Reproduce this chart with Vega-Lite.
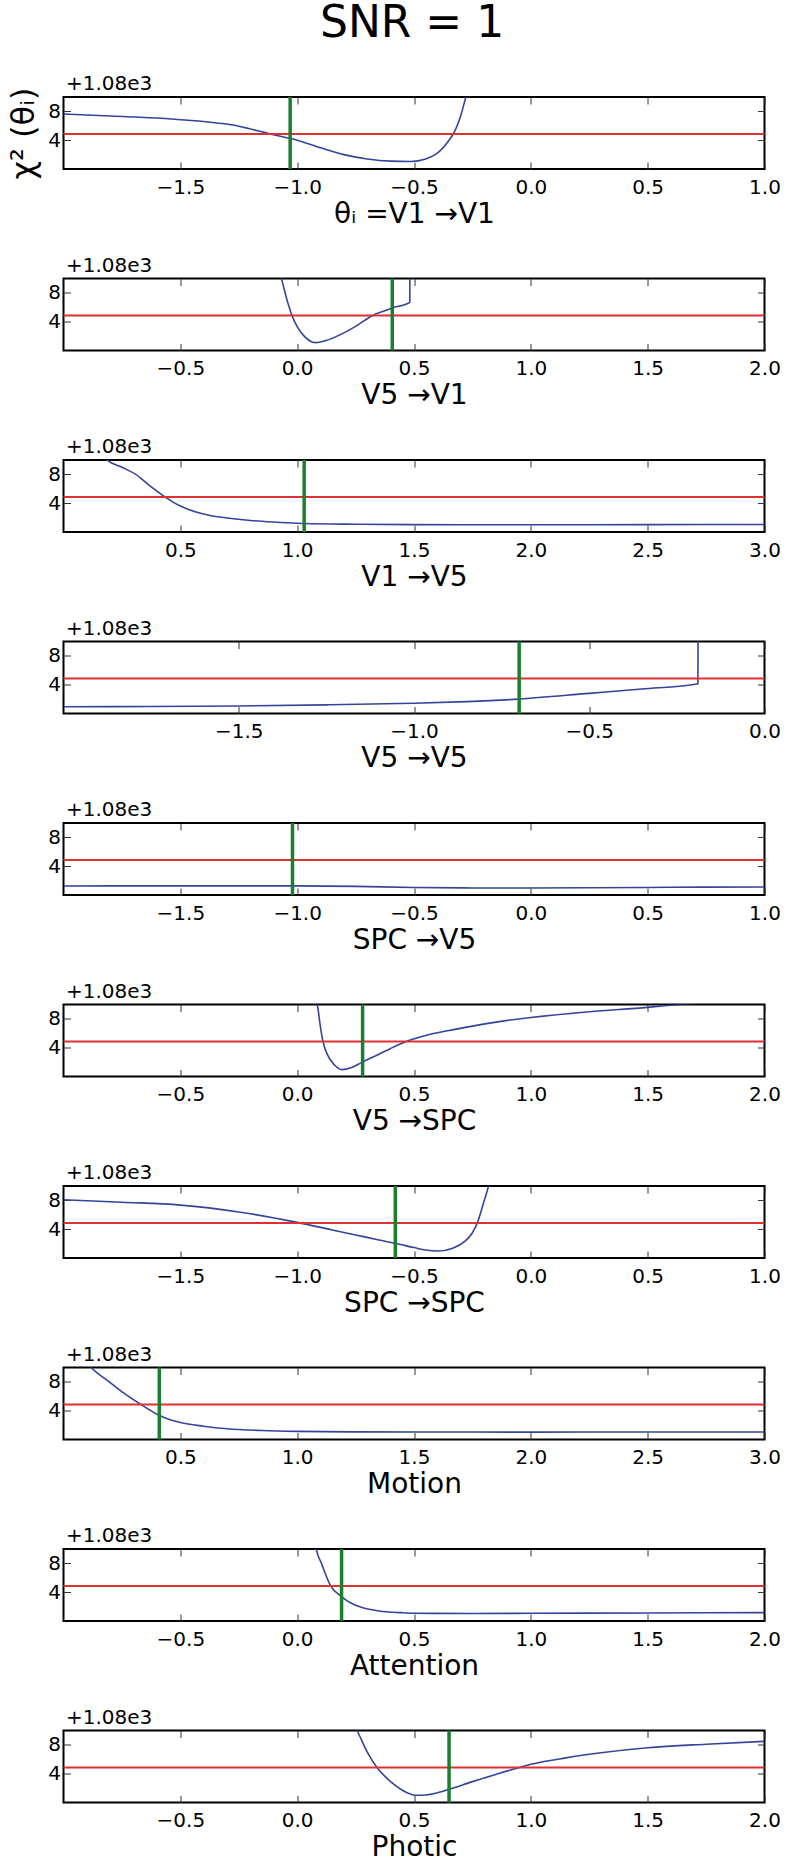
{
"$schema": "https://vega.github.io/schema/vega-lite/v6.json",
"padding": {"left": 6.5, "top": 1, "right": 5, "bottom": 5},
"title": {"text": "SNR = 1", "fontSize": 44, "font": "DejaVu Sans", "fontWeight": "normal", "anchor": "middle", "baseline": "alphabetic", "offset": -8, "dx": 18, "color": "black"},
"config": {
 "font": "DejaVu Sans",
 "view": {"stroke": "black", "strokeWidth": 2},
 "axis": {"domain": false, "grid": false, "tickSize": -7, "tickColor": "#333333", "tickWidth": 1, "labelFontSize": 20, "labelColor": "black", "labelFont": "DejaVu Sans", "titleFont": "DejaVu Sans", "titleFontSize": 28, "titleFontWeight": "normal", "titleColor": "black", "labelFlush": false, "labelOverlap": false},
 "axisBottom": {"labelPadding": 15, "titlePadding": 3},
 "axisLeft": {"labelPadding": 10, "titlePadding": 7, "titleFontSize": 32},
 "axisTop": {"labels": false, "title": "+1.08e3", "titleFontSize": 20, "titleAnchor": "start", "titleAlign": "left", "titleBaseline": "alphabetic", "titlePadding": 7, "titleX": 2},
 "axisRight": {"labels": false, "title": null}
},
"datasets": {
 "curves": [
  {"panel":1,"theta":-2.0,"chi2":7.64},{"panel":1,"theta":-1.75,"chi2":7.3},{"panel":1,"theta":-1.5,"chi2":6.85},{"panel":1,"theta":-1.25,"chi2":5.95},{"panel":1,"theta":-1.115,"chi2":4.86},{"panel":1,"theta":-1.0,"chi2":4.0},{"panel":1,"theta":-0.9,"chi2":2.95},{"panel":1,"theta":-0.8,"chi2":2.0},{"panel":1,"theta":-0.7,"chi2":1.4},{"panel":1,"theta":-0.6,"chi2":1.1},{"panel":1,"theta":-0.514,"chi2":1.05},{"panel":1,"theta":-0.45,"chi2":1.4},{"panel":1,"theta":-0.4,"chi2":2.2},{"panel":1,"theta":-0.35,"chi2":4.0},{"panel":1,"theta":-0.332,"chi2":4.86},{"panel":1,"theta":-0.3,"chi2":7.4},{"panel":1,"theta":-0.278,"chi2":10},{"panel":1,"theta":-0.26,"chi2":12},
  {"panel":2,"theta":-0.1,"chi2":12},{"panel":2,"theta":-0.068,"chi2":10},{"panel":2,"theta":-0.045,"chi2":7.2},{"panel":2,"theta":-0.023,"chi2":4.95},{"panel":2,"theta":0.0,"chi2":3.3},{"panel":2,"theta":0.03,"chi2":2.0},{"panel":2,"theta":0.078,"chi2":1.09},{"panel":2,"theta":0.12,"chi2":1.35},{"panel":2,"theta":0.2,"chi2":2.45},{"panel":2,"theta":0.25,"chi2":3.35},{"panel":2,"theta":0.325,"chi2":4.9},{"panel":2,"theta":0.36,"chi2":5.35},{"panel":2,"theta":0.407,"chi2":5.91},{"panel":2,"theta":0.482,"chi2":6.68},{"panel":2,"theta":0.4825,"chi2":12},
  {"panel":3,"theta":0.15,"chi2":11.5},{"panel":3,"theta":0.187,"chi2":10},{"panel":3,"theta":0.25,"chi2":9.0},{"panel":3,"theta":0.309,"chi2":8.0},{"panel":3,"theta":0.37,"chi2":6.4},{"panel":3,"theta":0.434,"chi2":4.88},{"panel":3,"theta":0.5,"chi2":3.6},{"panel":3,"theta":0.56,"chi2":2.85},{"panel":3,"theta":0.627,"chi2":2.3},{"panel":3,"theta":0.7,"chi2":1.95},{"panel":3,"theta":0.8,"chi2":1.6},{"panel":3,"theta":0.9,"chi2":1.38},{"panel":3,"theta":1.0,"chi2":1.22},{"panel":3,"theta":1.25,"chi2":1.08},{"panel":3,"theta":1.5,"chi2":1.03},{"panel":3,"theta":2.0,"chi2":1.0},{"panel":3,"theta":2.5,"chi2":1.02},{"panel":3,"theta":3.0,"chi2":1.05},
  {"panel":4,"theta":-2.0,"chi2":0.93},{"panel":4,"theta":-1.75,"chi2":0.97},{"panel":4,"theta":-1.5,"chi2":1.05},{"panel":4,"theta":-1.25,"chi2":1.2},{"panel":4,"theta":-1.0,"chi2":1.42},{"panel":4,"theta":-0.85,"chi2":1.65},{"panel":4,"theta":-0.702,"chi2":2.0},{"panel":4,"theta":-0.5,"chi2":2.8},{"panel":4,"theta":-0.35,"chi2":3.4},{"panel":4,"theta":-0.19,"chi2":4.14},{"panel":4,"theta":-0.1895,"chi2":12},
  {"panel":5,"theta":-2.0,"chi2":1.25},{"panel":5,"theta":-1.5,"chi2":1.27},{"panel":5,"theta":-1.0,"chi2":1.27},{"panel":5,"theta":-0.75,"chi2":1.2},{"panel":5,"theta":-0.5,"chi2":1.05},{"panel":5,"theta":-0.25,"chi2":0.98},{"panel":5,"theta":0.0,"chi2":0.98},{"panel":5,"theta":0.25,"chi2":1.0},{"panel":5,"theta":0.5,"chi2":1.05},{"panel":5,"theta":0.75,"chi2":1.1},{"panel":5,"theta":1.0,"chi2":1.12},
  {"panel":6,"theta":0.06,"chi2":12},{"panel":6,"theta":0.086,"chi2":10},{"panel":6,"theta":0.1,"chi2":6.8},{"panel":6,"theta":0.11,"chi2":4.93},{"panel":6,"theta":0.13,"chi2":3.0},{"panel":6,"theta":0.16,"chi2":1.6},{"panel":6,"theta":0.191,"chi2":0.95},{"panel":6,"theta":0.23,"chi2":1.2},{"panel":6,"theta":0.279,"chi2":2.0},{"panel":6,"theta":0.35,"chi2":3.1},{"panel":6,"theta":0.4,"chi2":3.9},{"panel":6,"theta":0.472,"chi2":4.93},{"panel":6,"theta":0.55,"chi2":5.7},{"panel":6,"theta":0.65,"chi2":6.4},{"panel":6,"theta":0.75,"chi2":7.0},{"panel":6,"theta":0.9,"chi2":7.8},{"panel":6,"theta":1.0,"chi2":8.2},{"panel":6,"theta":1.25,"chi2":9.0},{"panel":6,"theta":1.5,"chi2":9.6},{"panel":6,"theta":1.65,"chi2":10.05},{"panel":6,"theta":1.75,"chi2":10.3},
  {"panel":7,"theta":-2.0,"chi2":8.1},{"panel":7,"theta":-1.75,"chi2":7.75},{"panel":7,"theta":-1.5,"chi2":7.35},{"panel":7,"theta":-1.25,"chi2":6.4},{"panel":7,"theta":-1.0,"chi2":4.95},{"panel":7,"theta":-0.85,"chi2":3.9},{"panel":7,"theta":-0.75,"chi2":3.2},{"panel":7,"theta":-0.65,"chi2":2.5},{"panel":7,"theta":-0.582,"chi2":2.05},{"panel":7,"theta":-0.5,"chi2":1.45},{"panel":7,"theta":-0.45,"chi2":1.1},{"panel":7,"theta":-0.395,"chi2":0.97},{"panel":7,"theta":-0.334,"chi2":1.35},{"panel":7,"theta":-0.283,"chi2":2.3},{"panel":7,"theta":-0.252,"chi2":3.4},{"panel":7,"theta":-0.228,"chi2":4.95},{"panel":7,"theta":-0.201,"chi2":7.8},{"panel":7,"theta":-0.181,"chi2":10},{"panel":7,"theta":-0.17,"chi2":11.5},
  {"panel":8,"theta":0.09,"chi2":11},{"panel":8,"theta":0.118,"chi2":10},{"panel":8,"theta":0.2,"chi2":7.9},{"panel":8,"theta":0.26,"chi2":6.4},{"panel":8,"theta":0.328,"chi2":4.93},{"panel":8,"theta":0.407,"chi2":3.4},{"panel":8,"theta":0.45,"chi2":2.8},{"panel":8,"theta":0.5,"chi2":2.35},{"panel":8,"theta":0.6,"chi2":1.85},{"panel":8,"theta":0.7,"chi2":1.5},{"panel":8,"theta":0.85,"chi2":1.25},{"panel":8,"theta":1.0,"chi2":1.13},{"panel":8,"theta":1.25,"chi2":1.06},{"panel":8,"theta":1.5,"chi2":1.04},{"panel":8,"theta":2.0,"chi2":1.03},{"panel":8,"theta":2.5,"chi2":1.04},{"panel":8,"theta":3.0,"chi2":1.05},
  {"panel":9,"theta":0.075,"chi2":11.5},{"panel":9,"theta":0.082,"chi2":10},{"panel":9,"theta":0.104,"chi2":8.0},{"panel":9,"theta":0.142,"chi2":4.95},{"panel":9,"theta":0.192,"chi2":3.33},{"panel":9,"theta":0.23,"chi2":2.5},{"panel":9,"theta":0.271,"chi2":1.94},{"panel":9,"theta":0.35,"chi2":1.4},{"panel":9,"theta":0.443,"chi2":1.16},{"panel":9,"theta":0.5,"chi2":1.08},{"panel":9,"theta":0.75,"chi2":1.05},{"panel":9,"theta":1.0,"chi2":1.07},{"panel":9,"theta":1.5,"chi2":1.12},{"panel":9,"theta":2.0,"chi2":1.16},
  {"panel":10,"theta":0.23,"chi2":11.5},{"panel":10,"theta":0.256,"chi2":10},{"panel":10,"theta":0.3,"chi2":7.0},{"panel":10,"theta":0.34,"chi2":4.93},{"panel":10,"theta":0.4,"chi2":2.9},{"panel":10,"theta":0.45,"chi2":1.7},{"panel":10,"theta":0.507,"chi2":1.0},{"panel":10,"theta":0.55,"chi2":1.05},{"panel":10,"theta":0.6,"chi2":1.35},{"panel":10,"theta":0.651,"chi2":1.83},{"panel":10,"theta":0.75,"chi2":2.9},{"panel":10,"theta":0.85,"chi2":3.9},{"panel":10,"theta":0.958,"chi2":4.93},{"panel":10,"theta":1.0,"chi2":5.3},{"panel":10,"theta":1.15,"chi2":6.2},{"panel":10,"theta":1.3,"chi2":6.9},{"panel":10,"theta":1.5,"chi2":7.6},{"panel":10,"theta":1.75,"chi2":8.1},{"panel":10,"theta":2.0,"chi2":8.5}
 ],
 "refs": [
  {"panel":1,"threshold":4.85,"best":-1.03},
  {"panel":2,"threshold":4.85,"best":0.407},
  {"panel":3,"threshold":4.85,"best":1.03},
  {"panel":4,"threshold":4.85,"best":-0.70},
  {"panel":5,"threshold":4.85,"best":-1.02},
  {"panel":6,"threshold":4.85,"best":0.28},
  {"panel":7,"threshold":4.85,"best":-0.58},
  {"panel":8,"threshold":4.85,"best":0.41},
  {"panel":9,"threshold":4.85,"best":0.19},
  {"panel":10,"threshold":4.85,"best":0.65}
 ]
},
"spacing": 109.5,
"bounds": "flush",
"vconcat": [
 {"width": 701, "height": 72,
  "resolve": {"axis": {"x": "independent", "y": "independent"}},
  "layer": [
   {"data": {"name": "curves"}, "transform": [{"filter": "datum.panel === 1"}],
    "mark": {"type": "line", "clip": true, "color": "#34449a", "strokeWidth": 1.6, "interpolate": "monotone"},
    "encoding": {
     "x": {"field": "theta", "type": "quantitative", "scale": {"domain": [-2, 1], "nice": false, "zero": false}, "axis": {"orient": "bottom", "values": [-1.5, -1, -0.5, 0, 0.5, 1], "format": ".1f", "title": "θᵢ =V1 →V1"}},
     "y": {"field": "chi2", "type": "quantitative", "scale": {"domain": [0, 10], "nice": false, "zero": false}, "axis": {"orient": "left", "values": [4, 8], "title": "χ² (θᵢ)"}}}},
   {"data": {"name": "refs"}, "transform": [{"filter": "datum.panel === 1"}],
    "mark": {"type": "rule", "color": "#dd3030", "strokeWidth": 2},
    "encoding": {"y": {"field": "threshold", "type": "quantitative", "axis": {"orient": "right", "values": [4, 8], "labels": false, "title": null}}}},
   {"data": {"name": "refs"}, "transform": [{"filter": "datum.panel === 1"}],
    "mark": {"type": "rule", "color": "#1a7f2e", "strokeWidth": 3.5},
    "encoding": {"x": {"field": "best", "type": "quantitative", "axis": {"orient": "top", "values": [-1.5, -1, -0.5, 0, 0.5, 1], "labels": false, "title": "+1.08e3"}}}}
  ]},
 {"width": 701, "height": 72,
  "resolve": {"axis": {"x": "independent", "y": "independent"}},
  "layer": [
   {"data": {"name": "curves"}, "transform": [{"filter": "datum.panel === 2"}],
    "mark": {"type": "line", "clip": true, "color": "#34449a", "strokeWidth": 1.6, "interpolate": "monotone"},
    "encoding": {
     "x": {"field": "theta", "type": "quantitative", "scale": {"domain": [-1, 2], "nice": false, "zero": false}, "axis": {"orient": "bottom", "values": [-0.5, 0, 0.5, 1, 1.5, 2], "format": ".1f", "title": "V5 →V1"}},
     "y": {"field": "chi2", "type": "quantitative", "scale": {"domain": [0, 10], "nice": false, "zero": false}, "axis": {"orient": "left", "values": [4, 8], "title": null}}}},
   {"data": {"name": "refs"}, "transform": [{"filter": "datum.panel === 2"}],
    "mark": {"type": "rule", "color": "#dd3030", "strokeWidth": 2},
    "encoding": {"y": {"field": "threshold", "type": "quantitative", "axis": {"orient": "right", "values": [4, 8], "labels": false, "title": null}}}},
   {"data": {"name": "refs"}, "transform": [{"filter": "datum.panel === 2"}],
    "mark": {"type": "rule", "color": "#1a7f2e", "strokeWidth": 3.5},
    "encoding": {"x": {"field": "best", "type": "quantitative", "axis": {"orient": "top", "values": [-0.5, 0, 0.5, 1, 1.5, 2], "labels": false, "title": "+1.08e3"}}}}
  ]},
 {"width": 701, "height": 72,
  "resolve": {"axis": {"x": "independent", "y": "independent"}},
  "layer": [
   {"data": {"name": "curves"}, "transform": [{"filter": "datum.panel === 3"}],
    "mark": {"type": "line", "clip": true, "color": "#34449a", "strokeWidth": 1.6, "interpolate": "monotone"},
    "encoding": {
     "x": {"field": "theta", "type": "quantitative", "scale": {"domain": [0, 3], "nice": false, "zero": false}, "axis": {"orient": "bottom", "values": [0.5, 1, 1.5, 2, 2.5, 3], "format": ".1f", "title": "V1 →V5"}},
     "y": {"field": "chi2", "type": "quantitative", "scale": {"domain": [0, 10], "nice": false, "zero": false}, "axis": {"orient": "left", "values": [4, 8], "title": null}}}},
   {"data": {"name": "refs"}, "transform": [{"filter": "datum.panel === 3"}],
    "mark": {"type": "rule", "color": "#dd3030", "strokeWidth": 2},
    "encoding": {"y": {"field": "threshold", "type": "quantitative", "axis": {"orient": "right", "values": [4, 8], "labels": false, "title": null}}}},
   {"data": {"name": "refs"}, "transform": [{"filter": "datum.panel === 3"}],
    "mark": {"type": "rule", "color": "#1a7f2e", "strokeWidth": 3.5},
    "encoding": {"x": {"field": "best", "type": "quantitative", "axis": {"orient": "top", "values": [0.5, 1, 1.5, 2, 2.5, 3], "labels": false, "title": "+1.08e3"}}}}
  ]},
 {"width": 701, "height": 72,
  "resolve": {"axis": {"x": "independent", "y": "independent"}},
  "layer": [
   {"data": {"name": "curves"}, "transform": [{"filter": "datum.panel === 4"}],
    "mark": {"type": "line", "clip": true, "color": "#34449a", "strokeWidth": 1.6, "interpolate": "monotone"},
    "encoding": {
     "x": {"field": "theta", "type": "quantitative", "scale": {"domain": [-2, 0], "nice": false, "zero": false}, "axis": {"orient": "bottom", "values": [-1.5, -1, -0.5, 0], "format": ".1f", "title": "V5 →V5"}},
     "y": {"field": "chi2", "type": "quantitative", "scale": {"domain": [0, 10], "nice": false, "zero": false}, "axis": {"orient": "left", "values": [4, 8], "title": null}}}},
   {"data": {"name": "refs"}, "transform": [{"filter": "datum.panel === 4"}],
    "mark": {"type": "rule", "color": "#dd3030", "strokeWidth": 2},
    "encoding": {"y": {"field": "threshold", "type": "quantitative", "axis": {"orient": "right", "values": [4, 8], "labels": false, "title": null}}}},
   {"data": {"name": "refs"}, "transform": [{"filter": "datum.panel === 4"}],
    "mark": {"type": "rule", "color": "#1a7f2e", "strokeWidth": 3.5},
    "encoding": {"x": {"field": "best", "type": "quantitative", "axis": {"orient": "top", "values": [-1.5, -1, -0.5, 0], "labels": false, "title": "+1.08e3"}}}}
  ]},
 {"width": 701, "height": 72,
  "resolve": {"axis": {"x": "independent", "y": "independent"}},
  "layer": [
   {"data": {"name": "curves"}, "transform": [{"filter": "datum.panel === 5"}],
    "mark": {"type": "line", "clip": true, "color": "#34449a", "strokeWidth": 1.6, "interpolate": "monotone"},
    "encoding": {
     "x": {"field": "theta", "type": "quantitative", "scale": {"domain": [-2, 1], "nice": false, "zero": false}, "axis": {"orient": "bottom", "values": [-1.5, -1, -0.5, 0, 0.5, 1], "format": ".1f", "title": "SPC →V5"}},
     "y": {"field": "chi2", "type": "quantitative", "scale": {"domain": [0, 10], "nice": false, "zero": false}, "axis": {"orient": "left", "values": [4, 8], "title": null}}}},
   {"data": {"name": "refs"}, "transform": [{"filter": "datum.panel === 5"}],
    "mark": {"type": "rule", "color": "#dd3030", "strokeWidth": 2},
    "encoding": {"y": {"field": "threshold", "type": "quantitative", "axis": {"orient": "right", "values": [4, 8], "labels": false, "title": null}}}},
   {"data": {"name": "refs"}, "transform": [{"filter": "datum.panel === 5"}],
    "mark": {"type": "rule", "color": "#1a7f2e", "strokeWidth": 3.5},
    "encoding": {"x": {"field": "best", "type": "quantitative", "axis": {"orient": "top", "values": [-1.5, -1, -0.5, 0, 0.5, 1], "labels": false, "title": "+1.08e3"}}}}
  ]},
 {"width": 701, "height": 72,
  "resolve": {"axis": {"x": "independent", "y": "independent"}},
  "layer": [
   {"data": {"name": "curves"}, "transform": [{"filter": "datum.panel === 6"}],
    "mark": {"type": "line", "clip": true, "color": "#34449a", "strokeWidth": 1.6, "interpolate": "monotone"},
    "encoding": {
     "x": {"field": "theta", "type": "quantitative", "scale": {"domain": [-1, 2], "nice": false, "zero": false}, "axis": {"orient": "bottom", "values": [-0.5, 0, 0.5, 1, 1.5, 2], "format": ".1f", "title": "V5 →SPC"}},
     "y": {"field": "chi2", "type": "quantitative", "scale": {"domain": [0, 10], "nice": false, "zero": false}, "axis": {"orient": "left", "values": [4, 8], "title": null}}}},
   {"data": {"name": "refs"}, "transform": [{"filter": "datum.panel === 6"}],
    "mark": {"type": "rule", "color": "#dd3030", "strokeWidth": 2},
    "encoding": {"y": {"field": "threshold", "type": "quantitative", "axis": {"orient": "right", "values": [4, 8], "labels": false, "title": null}}}},
   {"data": {"name": "refs"}, "transform": [{"filter": "datum.panel === 6"}],
    "mark": {"type": "rule", "color": "#1a7f2e", "strokeWidth": 3.5},
    "encoding": {"x": {"field": "best", "type": "quantitative", "axis": {"orient": "top", "values": [-0.5, 0, 0.5, 1, 1.5, 2], "labels": false, "title": "+1.08e3"}}}}
  ]},
 {"width": 701, "height": 72,
  "resolve": {"axis": {"x": "independent", "y": "independent"}},
  "layer": [
   {"data": {"name": "curves"}, "transform": [{"filter": "datum.panel === 7"}],
    "mark": {"type": "line", "clip": true, "color": "#34449a", "strokeWidth": 1.6, "interpolate": "monotone"},
    "encoding": {
     "x": {"field": "theta", "type": "quantitative", "scale": {"domain": [-2, 1], "nice": false, "zero": false}, "axis": {"orient": "bottom", "values": [-1.5, -1, -0.5, 0, 0.5, 1], "format": ".1f", "title": "SPC →SPC"}},
     "y": {"field": "chi2", "type": "quantitative", "scale": {"domain": [0, 10], "nice": false, "zero": false}, "axis": {"orient": "left", "values": [4, 8], "title": null}}}},
   {"data": {"name": "refs"}, "transform": [{"filter": "datum.panel === 7"}],
    "mark": {"type": "rule", "color": "#dd3030", "strokeWidth": 2},
    "encoding": {"y": {"field": "threshold", "type": "quantitative", "axis": {"orient": "right", "values": [4, 8], "labels": false, "title": null}}}},
   {"data": {"name": "refs"}, "transform": [{"filter": "datum.panel === 7"}],
    "mark": {"type": "rule", "color": "#1a7f2e", "strokeWidth": 3.5},
    "encoding": {"x": {"field": "best", "type": "quantitative", "axis": {"orient": "top", "values": [-1.5, -1, -0.5, 0, 0.5, 1], "labels": false, "title": "+1.08e3"}}}}
  ]},
 {"width": 701, "height": 72,
  "resolve": {"axis": {"x": "independent", "y": "independent"}},
  "layer": [
   {"data": {"name": "curves"}, "transform": [{"filter": "datum.panel === 8"}],
    "mark": {"type": "line", "clip": true, "color": "#34449a", "strokeWidth": 1.6, "interpolate": "monotone"},
    "encoding": {
     "x": {"field": "theta", "type": "quantitative", "scale": {"domain": [0, 3], "nice": false, "zero": false}, "axis": {"orient": "bottom", "values": [0.5, 1, 1.5, 2, 2.5, 3], "format": ".1f", "title": "Motion"}},
     "y": {"field": "chi2", "type": "quantitative", "scale": {"domain": [0, 10], "nice": false, "zero": false}, "axis": {"orient": "left", "values": [4, 8], "title": null}}}},
   {"data": {"name": "refs"}, "transform": [{"filter": "datum.panel === 8"}],
    "mark": {"type": "rule", "color": "#dd3030", "strokeWidth": 2},
    "encoding": {"y": {"field": "threshold", "type": "quantitative", "axis": {"orient": "right", "values": [4, 8], "labels": false, "title": null}}}},
   {"data": {"name": "refs"}, "transform": [{"filter": "datum.panel === 8"}],
    "mark": {"type": "rule", "color": "#1a7f2e", "strokeWidth": 3.5},
    "encoding": {"x": {"field": "best", "type": "quantitative", "axis": {"orient": "top", "values": [0.5, 1, 1.5, 2, 2.5, 3], "labels": false, "title": "+1.08e3"}}}}
  ]},
 {"width": 701, "height": 72,
  "resolve": {"axis": {"x": "independent", "y": "independent"}},
  "layer": [
   {"data": {"name": "curves"}, "transform": [{"filter": "datum.panel === 9"}],
    "mark": {"type": "line", "clip": true, "color": "#34449a", "strokeWidth": 1.6, "interpolate": "monotone"},
    "encoding": {
     "x": {"field": "theta", "type": "quantitative", "scale": {"domain": [-1, 2], "nice": false, "zero": false}, "axis": {"orient": "bottom", "values": [-0.5, 0, 0.5, 1, 1.5, 2], "format": ".1f", "title": "Attention"}},
     "y": {"field": "chi2", "type": "quantitative", "scale": {"domain": [0, 10], "nice": false, "zero": false}, "axis": {"orient": "left", "values": [4, 8], "title": null}}}},
   {"data": {"name": "refs"}, "transform": [{"filter": "datum.panel === 9"}],
    "mark": {"type": "rule", "color": "#dd3030", "strokeWidth": 2},
    "encoding": {"y": {"field": "threshold", "type": "quantitative", "axis": {"orient": "right", "values": [4, 8], "labels": false, "title": null}}}},
   {"data": {"name": "refs"}, "transform": [{"filter": "datum.panel === 9"}],
    "mark": {"type": "rule", "color": "#1a7f2e", "strokeWidth": 3.5},
    "encoding": {"x": {"field": "best", "type": "quantitative", "axis": {"orient": "top", "values": [-0.5, 0, 0.5, 1, 1.5, 2], "labels": false, "title": "+1.08e3"}}}}
  ]},
 {"width": 701, "height": 72,
  "resolve": {"axis": {"x": "independent", "y": "independent"}},
  "layer": [
   {"data": {"name": "curves"}, "transform": [{"filter": "datum.panel === 10"}],
    "mark": {"type": "line", "clip": true, "color": "#34449a", "strokeWidth": 1.6, "interpolate": "monotone"},
    "encoding": {
     "x": {"field": "theta", "type": "quantitative", "scale": {"domain": [-1, 2], "nice": false, "zero": false}, "axis": {"orient": "bottom", "values": [-0.5, 0, 0.5, 1, 1.5, 2], "format": ".1f", "title": "Photic"}},
     "y": {"field": "chi2", "type": "quantitative", "scale": {"domain": [0, 10], "nice": false, "zero": false}, "axis": {"orient": "left", "values": [4, 8], "title": null}}}},
   {"data": {"name": "refs"}, "transform": [{"filter": "datum.panel === 10"}],
    "mark": {"type": "rule", "color": "#dd3030", "strokeWidth": 2},
    "encoding": {"y": {"field": "threshold", "type": "quantitative", "axis": {"orient": "right", "values": [4, 8], "labels": false, "title": null}}}},
   {"data": {"name": "refs"}, "transform": [{"filter": "datum.panel === 10"}],
    "mark": {"type": "rule", "color": "#1a7f2e", "strokeWidth": 3.5},
    "encoding": {"x": {"field": "best", "type": "quantitative", "axis": {"orient": "top", "values": [-0.5, 0, 0.5, 1, 1.5, 2], "labels": false, "title": "+1.08e3"}}}}
  ]}
]
}
